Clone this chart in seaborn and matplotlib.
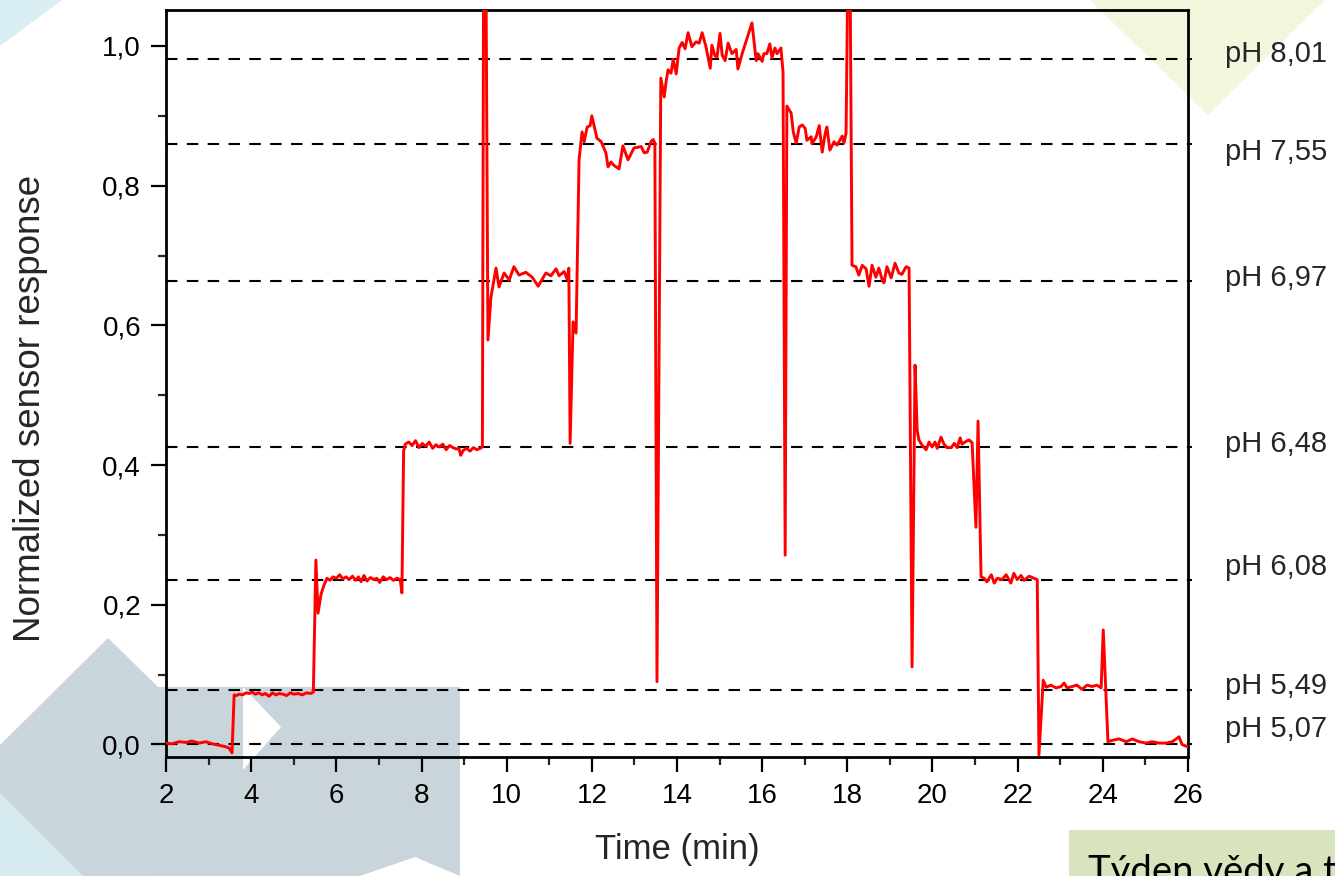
import matplotlib
matplotlib.use("Agg")
import matplotlib.pyplot as plt
from matplotlib.patches import Polygon, Rectangle
from matplotlib.ticker import MultipleLocator, FuncFormatter
import seaborn as sns

# --- data ---
time_min = [
    2.00, 2.14, 2.31, 2.47, 2.61, 2.78, 2.94, 3.08, 3.24, 3.39, 3.48, 3.55, 3.60,
    3.65, 3.72, 3.80, 3.88, 3.95, 4.02, 4.10, 4.18, 4.26, 4.33, 4.42, 4.50, 4.58,
    4.66, 4.75, 4.83, 4.92, 5.00, 5.10, 5.20, 5.30, 5.40, 5.46,
    5.52, 5.57, 5.64, 5.71, 5.78, 5.85, 5.92, 6.00, 6.08, 6.15, 6.23, 6.30, 6.38,
    6.45, 6.52, 6.58, 6.65, 6.72, 6.80, 6.88, 6.95, 7.02, 7.10, 7.18, 7.26, 7.34,
    7.42, 7.50, 7.54, 7.58, 7.62,
    7.70, 7.78, 7.86, 7.94, 8.02, 8.10, 8.18, 8.26, 8.34, 8.42, 8.50, 8.58, 8.66,
    8.74, 8.82, 8.88, 8.92, 8.98, 9.06, 9.14, 9.22, 9.30, 9.38, 9.43,
    9.46, 9.51, 9.56, 9.63, 9.75, 9.82, 9.94, 10.06, 10.17, 10.29, 10.45, 10.60,
    10.74, 10.92, 11.04, 11.16, 11.23, 11.35, 11.42, 11.46, 11.49, 11.56, 11.63,
    11.70, 11.77, 11.82, 11.89, 11.96, 12.00, 12.12, 12.22, 12.33, 12.38, 12.45,
    12.52, 12.64, 12.73, 12.85, 12.99, 13.16, 13.23, 13.30, 13.39, 13.44, 13.48,
    13.53, 13.62, 13.70, 13.74, 13.79, 13.86, 13.91, 13.98, 14.05, 14.12, 14.19,
    14.26, 14.35, 14.45, 14.52, 14.59, 14.68, 14.78, 14.82, 14.89, 14.94, 15.01,
    15.06, 15.13, 15.20, 15.29, 15.39, 15.43, 15.53, 15.76, 15.86, 15.90, 16.00,
    16.04, 16.11, 16.18, 16.23, 16.30, 16.35, 16.44, 16.49,
    16.54, 16.58, 16.68, 16.73, 16.80, 16.87, 16.94, 17.01, 17.05, 17.15, 17.17,
    17.27, 17.34, 17.41, 17.48, 17.52, 17.59, 17.69, 17.76, 17.88, 17.92, 17.97,
    18.02, 18.06, 18.11, 18.20, 18.27, 18.35, 18.44, 18.51, 18.58, 18.67, 18.74,
    18.82, 18.86, 18.93, 19.03, 19.12, 19.21, 19.28, 19.38, 19.45,
    19.52, 19.59, 19.64, 19.68, 19.75, 19.85, 19.92, 19.99, 20.06, 20.11, 20.20,
    20.27, 20.34, 20.44, 20.51, 20.58, 20.65, 20.69, 20.79, 20.86, 20.93,
    21.02, 21.07, 21.14, 21.21, 21.28, 21.38, 21.45, 21.52, 21.63, 21.73, 21.84,
    21.91, 21.99, 22.08, 22.15, 22.27, 22.38, 22.46,
    22.50, 22.60, 22.67, 22.78, 22.90, 23.02, 23.09, 23.16, 23.28, 23.39, 23.51,
    23.63, 23.75, 23.86, 23.96, 24.01, 24.12, 24.22, 24.38, 24.55, 24.69, 24.85,
    25.02, 25.16, 25.32, 25.49, 25.63, 25.79, 25.86, 25.98,
]
response = [
    0.002, 0.001, 0.004, 0.003, 0.005, 0.002, 0.004, 0.001, -0.001, -0.003, -0.005, -0.012, 0.071,
    0.070, 0.072, 0.071, 0.074, 0.073, 0.075, 0.072, 0.074, 0.071, 0.073, 0.069, 0.074, 0.071,
    0.073, 0.072, 0.070, 0.074, 0.072, 0.073, 0.071, 0.074, 0.073, 0.075,
    0.264, 0.188, 0.215, 0.228, 0.238, 0.235, 0.240, 0.238, 0.243, 0.237, 0.240, 0.236, 0.241,
    0.235, 0.240, 0.233, 0.242, 0.234, 0.239, 0.236, 0.238, 0.232, 0.240, 0.236, 0.239, 0.235,
    0.238, 0.236, 0.217, 0.420, 0.430,
    0.433, 0.428, 0.435, 0.425, 0.431, 0.427, 0.433, 0.424, 0.429, 0.426, 0.430, 0.422, 0.428,
    0.425, 0.423, 0.424, 0.414, 0.421, 0.424, 0.420, 0.425, 0.422, 0.424, 0.426,
    1.150, 1.150, 0.579, 0.640, 0.682, 0.655, 0.675, 0.665, 0.684, 0.672, 0.676, 0.669,
    0.656, 0.675, 0.671, 0.681, 0.671, 0.677, 0.666, 0.682, 0.431, 0.605, 0.589,
    0.837, 0.877, 0.863, 0.884, 0.886, 0.900, 0.868, 0.863, 0.847, 0.827, 0.834,
    0.829, 0.824, 0.857, 0.837, 0.854, 0.856, 0.847, 0.848, 0.863, 0.866, 0.861,
    0.090, 0.954, 0.927, 0.947, 0.966, 0.961, 0.981, 0.960, 0.997, 1.005, 0.996,
    1.019, 0.999, 1.006, 1.004, 1.019, 0.999, 0.968, 1.001, 0.986, 0.984, 1.018,
    0.987, 0.979, 1.004, 0.989, 0.995, 0.967, 0.989, 1.033, 0.979, 0.989, 0.978,
    0.989, 0.989, 1.003, 0.983, 0.997, 0.989, 0.997, 0.963,
    0.271, 0.914, 0.904, 0.877, 0.861, 0.884, 0.887, 0.882, 0.865, 0.870, 0.860,
    0.870, 0.886, 0.848, 0.875, 0.884, 0.851, 0.863, 0.858, 0.871, 0.861, 0.875,
    1.150, 1.150, 0.686, 0.684, 0.672, 0.686, 0.681, 0.656, 0.686, 0.669, 0.682,
    0.665, 0.661, 0.684, 0.668, 0.689, 0.675, 0.673, 0.684, 0.682,
    0.111, 0.543, 0.450, 0.436, 0.429, 0.422, 0.433, 0.426, 0.433, 0.424, 0.440,
    0.430, 0.425, 0.425, 0.431, 0.425, 0.439, 0.430, 0.434, 0.436, 0.432,
    0.311, 0.463, 0.240, 0.238, 0.233, 0.243, 0.231, 0.238, 0.236, 0.243, 0.231,
    0.245, 0.236, 0.242, 0.235, 0.241, 0.238, 0.236,
    -0.015, 0.092, 0.082, 0.085, 0.081, 0.083, 0.088, 0.081, 0.083, 0.085, 0.079,
    0.085, 0.083, 0.085, 0.081, 0.164, 0.004, 0.006, 0.008, 0.004, 0.008, 0.004,
    0.002, 0.004, 0.002, 0.002, 0.004, 0.011, 0.000, -0.003,
]

ph_names = ["pH 8,01", "pH 7,55", "pH 6,97", "pH 6,48", "pH 6,08", "pH 5,49", "pH 5,07"]
ph_levels = [0.982, 0.859, 0.664, 0.426, 0.236, 0.078, 0.0]
ph_label_y = [0.989, 0.848, 0.668, 0.430, 0.254, 0.084, 0.022]

W, H = 1335, 876

sns.set_theme(style="ticks")
plt.rcParams["font.family"] = ["Liberation Sans", "DejaVu Sans"]

fig = plt.figure(figsize=(W / 100, H / 100), dpi=100)
fig.patch.set_facecolor("white")


def px(points):
    # pixel coords (top-left origin) -> figure fraction
    return [(x / W, 1 - y / H) for x, y in points]


# background decoration of the slide
deco = [
    ([(0, 0), (62, 0), (0, 46)], "#d8eef2"),
    ([(1090, 0), (1335, 0), (1335, -10), (1208, 115)], "#f3f5dc"),
    ([(0, 745), (108, 638), (245, 772), (245, 876), (0, 876)], "#c9d6db"),
    ([(150, 687), (460, 687), (460, 876), (150, 876)], "#c9d5da"),
    ([(243, 687), (281, 727), (243, 770)], "white"),
    ([(0, 793), (0, 876), (83, 876)], "#d6ecf0"),
    ([(360, 876), (415, 857), (460, 876)], "white"),
]
for pts, col in deco:
    fig.add_artist(Polygon(px(pts), closed=True, transform=fig.transFigure,
                           facecolor=col, edgecolor="none", zorder=-2))

fig.add_artist(Rectangle((1069 / W, 0), (W - 1069) / W, (H - 830) / H,
                         transform=fig.transFigure, facecolor="#d7e4bd",
                         edgecolor="none", zorder=-1))
fig.text(1088 / W, 1 - 883 / H, "Týden vědy a techniky", fontsize=27.5,
         family=["Lato", "DejaVu Sans"], color="black", va="baseline", ha="left")

ax = fig.add_axes([166 / W, 1 - 757 / H, (1188 - 166) / W, (757 - 10) / H])
ax.set_facecolor("none")

for lvl in ph_levels:
    ax.axhline(lvl, xmin=0, xmax=1.004, color="black", lw=1.5,
               ls=(0, (5.5, 4.5)), clip_on=False, zorder=2)

sns.lineplot(x=time_min, y=response, color="red", lw=2.1, ax=ax,
             estimator=None, sort=False, zorder=3)

for name, yl in zip(ph_names, ph_label_y):
    ax.text(1.036, yl, name, transform=ax.get_yaxis_transform(),
            fontsize=21, va="center", ha="left")

ax.set_xlim(2, 26)
ax.set_ylim(-0.0179, 1.0515)
ax.xaxis.set_major_locator(MultipleLocator(2))
ax.xaxis.set_minor_locator(MultipleLocator(1))
ax.yaxis.set_major_locator(MultipleLocator(0.2))
ax.yaxis.set_minor_locator(MultipleLocator(0.1))
ax.yaxis.set_major_formatter(FuncFormatter(lambda v, p: f"{v:.1f}".replace(".", ",")))

for s in ax.spines.values():
    s.set_linewidth(2.0)
    s.set_color("black")
ax.tick_params(which="major", direction="out", length=11, width=1.6,
               labelsize=20, colors="black")
ax.tick_params(axis="x", which="major", pad=8)
ax.tick_params(axis="y", which="major", pad=7)
ax.tick_params(which="minor", direction="out", length=5.5, width=1.6)
ax.tick_params(top=False, right=False, which="both")

ax.set_xlabel("Time (min)", fontsize=25)
ax.xaxis.set_label_coords(0.5, -0.1017)
ax.set_ylabel("Normalized sensor response", fontsize=26.5)
ax.yaxis.set_label_coords(-0.1155, 0.467)

fig.savefig("out.png", dpi=100, facecolor=fig.get_facecolor())
